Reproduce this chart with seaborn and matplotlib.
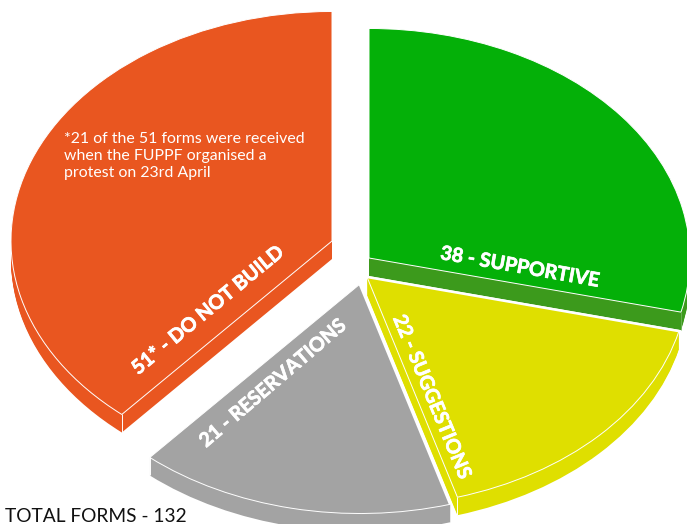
import numpy as np
import matplotlib
matplotlib.use("Agg")
import matplotlib.pyplot as plt
import matplotlib.patheffects as pe
from matplotlib.patches import Polygon
import seaborn as sns

# Feedback form counts, clockwise from twelve o'clock
categories = ["SUPPORTIVE", "SUGGESTIONS", "RESERVATIONS", "DO NOT BUILD"]
counts = [38, 22, 21, 51]
slice_labels = ["38 - SUPPORTIVE", "22 - SUGGESTIONS", "21 - RESERVATIONS", "51* - DO NOT BUILD"]
footnote = "*21 of the 51 forms were received\nwhen the FUPPF organised a\nprotest on 23rd April"
total_label = "TOTAL FORMS - 132"

top_colours = ["#04B008", "#DFDF00", "#A3A3A3", "#E95620"]
wall_colours = ["#3C9A1C", "#DFDF00", "#A3A3A3", "#E95620"]

WIDTH, HEIGHT = 687, 524
SQUASH = 0.715      # vertical foreshortening of the tilted pie
RADIUS = 321
DEPTH = 18
apexes = [(369, 258), (367, 277), (360, 284), (332, 241)]

sns.set_theme(style="white")
plt.rcParams["font.family"] = ["Lato", "DejaVu Sans"]

fig = plt.figure(figsize=(WIDTH / 100, HEIGHT / 100), dpi=100)
ax = fig.add_axes([0, 0, 1, 1])


def to_data(px, py):
    """Canvas position (y down) to data position in the unsquashed pie plane."""
    return px, (HEIGHT - py) / SQUASH


def rim_point(apex, angle_deg, drop=0):
    ax_x, ax_y = to_data(*apex)
    a = np.radians(angle_deg)
    return (ax_x + RADIUS * np.cos(a),
            ax_y + RADIUS * np.sin(a) - drop / SQUASH)


def draw_slice(value, start, colour, apex, drop=0, **wedge_kw):
    wedges, _ = ax.pie([value, sum(counts) - value], colors=[colour, "none"],
                       startangle=start, counterclock=False, radius=RADIUS,
                       center=to_data(apex[0], apex[1] + drop),
                       wedgeprops=wedge_kw)
    wedges[1].remove()
    return wedges[0]


def edge_line(p0, p1, colour="white", width=0.7):
    ax.plot([p0[0], p1[0]], [p0[1], p1[1]], color=colour, lw=width,
            solid_capstyle="butt")


starts = 90 - 360 * np.concatenate([[0], np.cumsum(counts)[:-1]]) / sum(counts)
ends = starts - 360 * np.array(counts) / sum(counts)

# Extruded walls first, the top faces over them; the grey slice goes last
# so that its white border sits above the yellow wall.
for i in [0, 3, 1, 2]:
    name, apex = categories[i], apexes[i]
    clip = None
    if name == "SUGGESTIONS":
        # the yellow wall tapers into the slice tip
        tip = to_data(*apex)
        low = rim_point(apex, ends[i], DEPTH)
        clip = Polygon([tip, low, (low[0] + 400, low[1]), (tip[0] + 400, tip[1])],
                       transform=ax.transData)
    for drop in range(DEPTH, 0, -1):
        wall = draw_slice(counts[i], starts[i], wall_colours[i], apex, drop,
                          linewidth=0)
        if clip is not None:
            wall.set_clip_path(clip)
    draw_slice(counts[i], starts[i], top_colours[i], apex,
               edgecolor="white", linewidth=0.7)

    # vertical seams at the corners nearest the viewer, heavier slice borders
    if name == "SUPPORTIVE":
        edge_line(rim_point(apex, ends[i]), rim_point(apex, ends[i], DEPTH), "#6FB35A", 0.6)
    elif name == "SUGGESTIONS":
        edge_line(rim_point(apex, ends[i]), rim_point(apex, ends[i], DEPTH))
        edge_line(to_data(*apex), rim_point(apex, starts[i]), width=1.8)
    elif name == "RESERVATIONS":
        edge_line(rim_point(apex, ends[i]), rim_point(apex, ends[i], DEPTH))
        edge_line(to_data(*apex), rim_point(apex, starts[i]), width=2.2)
    else:
        edge_line(rim_point(apex, starts[i]), rim_point(apex, starts[i], DEPTH))

ax.set_aspect("auto")
ax.set_xlim(0, WIDTH)
ax.set_ylim(0, HEIGHT / SQUASH)
ax.set_axis_off()

# Slightly thickened bold lettering for the slice names
label_style = dict(color="white", fontweight="bold", fontsize=14.2,
                   ha="center", va="center", rotation_mode="anchor",
                   path_effects=[pe.withStroke(linewidth=0.5, foreground="white")])
label_spots = [(520, 267, -10), (432, 397, -67.5), (273, 383, 40.5), (208, 310, 39.5)]
for text, (px, py, rot) in zip(slice_labels, label_spots):
    x, y = to_data(px, py)
    ax.text(x, y, text, rotation=rot, **label_style)

x, y = to_data(64, 156)
ax.text(x, y, footnote, color="white", fontsize=11.4, ha="left", va="center",
        linespacing=1.28)
x, y = to_data(5, 516)
ax.text(x, y, total_label, color="#111111", fontsize=13.75, ha="left", va="center")

fig.savefig("out.png", dpi=100)
